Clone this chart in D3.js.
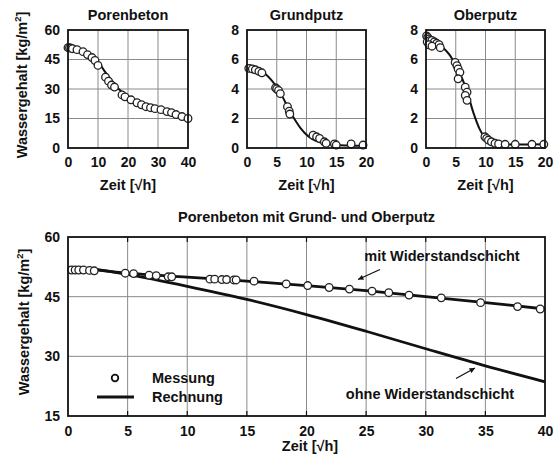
<!DOCTYPE html>
<html>
<head>
<meta charset="utf-8">
<script src="https://cdn.jsdelivr.net/npm/d3@7/dist/d3.min.js"></script>
<style>
  html, body { margin: 0; padding: 0; background: #fff; }
  svg text { font-family: "Liberation Sans", Arial, sans-serif; font-weight: bold; fill: #111; }
</style>
</head>
<body>
<svg id="chart" width="558" height="463"></svg>
<script>
// Porenbeton (aerated concrete) drying
const poroCalcX = [0, 2, 5, 8, 10, 12, 14, 16, 18, 21, 24, 27, 30, 33, 36, 40];
const poroCalcY = [51.5, 50.6, 49, 46.3, 44, 39.5, 35.5, 31.5, 28.5, 25, 22.6, 20.8, 19.5, 18.3, 17, 15.1];
const poroMeasX = [0, 0.5, 1, 1.5, 3, 5, 6.5, 8, 9, 10, 12.5, 13.5, 14.5, 15.5, 18, 19, 21, 23, 24.5, 26, 27.5, 29, 31, 33, 34.5, 36, 38, 40];
const poroMeasY = [51, 51, 50.8, 50.5, 50, 49, 47.5, 46, 44.5, 42, 36, 34, 32, 31, 27, 26, 24.5, 23, 22, 21, 20.5, 20, 19.5, 18.5, 18, 17, 16, 15];

// Grundputz (base plaster)
const grundCalcX = [0, 1, 2, 3, 4, 5, 6, 7, 8, 9, 10, 11, 12, 13, 14, 15, 17, 20];
const grundCalcY = [5.65, 5.55, 5.35, 5.05, 4.65, 4.12, 3.45, 2.65, 1.95, 1.35, 0.9, 0.6, 0.42, 0.32, 0.25, 0.2, 0.17, 0.15];
const grundMeasX = [0.3, 0.9, 1.4, 2.0, 2.5, 4.8, 5.0, 5.3, 5.6, 6.8, 7.1, 7.2, 11.1, 11.7, 12.2, 13.0, 13.3, 14.7, 15.0, 17.5, 19.5];
const grundMeasY = [5.4, 5.36, 5.3, 5.2, 5.1, 4.08, 4.0, 3.9, 3.68, 2.8, 2.5, 2.3, 0.87, 0.76, 0.65, 0.42, 0.32, 0.27, 0.2, 0.27, 0.2];

// Oberputz (top plaster)
const oberCalcX = [0, 1, 2, 3, 4, 5, 6, 7, 8, 9, 10, 11, 12, 13, 15, 20];
const oberCalcY = [7.35, 7.25, 7.05, 6.75, 6.3, 5.6, 4.79, 3.7, 2.35, 1.3, 0.65, 0.38, 0.27, 0.24, 0.23, 0.25];
const oberMeasX = [0.1, 0.3, 0.5, 0.2, 0.7, 1.0, 1.4, 1.8, 2.2, 2.4, 0.5, 1.0, 4.9, 5.2, 5.4, 5.7, 5.4, 6.6, 6.9, 6.6, 6.9, 9.9, 10.2, 10.5, 11.0, 11.6, 12.2, 13.3, 15.0, 17.8, 19.8];
const oberMeasY = [7.6, 7.5, 7.4, 7.2, 7.3, 7.3, 7.2, 7.1, 7.0, 6.8, 7.0, 6.9, 5.8, 5.58, 5.36, 5.13, 4.69, 4.12, 3.79, 3.56, 3.23, 0.76, 0.65, 0.54, 0.42, 0.32, 0.27, 0.25, 0.25, 0.25, 0.25];

// Combined wall: Porenbeton mit Grund- und Oberputz
const mitCalcX = [0, 2, 5, 10, 15, 20, 25, 30, 35, 40];
const mitCalcY = [52.2, 51.8, 50.9, 49.9, 48.9, 47.8, 46.5, 45.0, 43.5, 41.9];
const ohneCalcX = [0, 2, 5, 10, 15, 20, 25, 30, 35, 40];
const ohneCalcY = [52.3, 52.0, 50.6, 47.6, 44.3, 40.5, 36.3, 31.9, 27.6, 23.6];
const mitMeasX = [0.3, 0.6, 0.9, 1.3, 1.8, 2.2, 4.8, 5.5, 6.8, 7.4, 8.4, 8.7, 11.9, 12.3, 12.9, 13.3, 13.9, 14.1, 15.6, 18.3, 20.1, 21.9, 23.6, 25.5, 26.9, 28.6, 31.3, 34.6, 37.7, 39.6];
const mitMeasY = [51.7, 51.7, 51.7, 51.7, 51.6, 51.5, 50.9, 50.8, 50.4, 50.3, 50.0, 50.0, 49.4, 49.4, 49.3, 49.3, 49.2, 49.2, 48.9, 48.2, 47.8, 47.3, 46.9, 46.4, 46.0, 45.4, 44.7, 43.5, 42.5, 41.9];

// Axis ticks
const ticks40 = [0, 10, 20, 30, 40];
const ticks60 = [0, 15, 30, 45, 60];
const ticks20 = [0, 5, 10, 15, 20];
const ticks8 = [0, 2, 4, 6, 8];
const ticksBigX = [0, 5, 10, 15, 20, 25, 30, 35, 40];
const ticksBigY = [15, 30, 45, 60];

const xLabel = "Zeit [\u221Ah]";
const FS = 14.5;   // labels
const TS = 14;     // tick numbers
const svg = d3.select("#chart");

function zip(xs, ys) { return xs.map((x, i) => [x, ys[i]]); }

function panel(o) {
  const x = d3.scaleLinear().domain(o.xd).range([o.left, o.right]);
  const y = d3.scaleLinear().domain(o.yd).range([o.bottom, o.top]);
  const g = svg.append("g");

  // grid
  g.append("g").selectAll("line").data(o.xt.slice(1, -1)).join("line")
    .attr("x1", d => x(d)).attr("x2", d => x(d)).attr("y1", o.top).attr("y2", o.bottom)
    .attr("stroke", "#8a8a8a").attr("stroke-width", 1);
  g.append("g").selectAll("line").data(o.yt.slice(1, -1)).join("line")
    .attr("y1", d => y(d)).attr("y2", d => y(d)).attr("x1", o.left).attr("x2", o.right)
    .attr("stroke", "#8a8a8a").attr("stroke-width", 1);

  // axes
  const ax = g.append("g").attr("transform", `translate(0,${o.bottom})`)
    .call(d3.axisBottom(x).tickValues(o.xt).tickSize(0).tickPadding(o.tickPadX));
  const ay = g.append("g").attr("transform", `translate(${o.left},0)`)
    .call(d3.axisLeft(y).tickValues(o.yt).tickSize(0).tickPadding(o.tickPadY));
  [ax, ay].forEach(a => {
    a.select(".domain").remove();
    a.selectAll("text").attr("font-size", TS).style("font-family", "'Liberation Sans', Arial, sans-serif").style("font-weight", "bold").attr("fill", "#111");
  });

  // small inward tick marks on bottom and top edges
  if (o.inTicks) {
    g.append("g").selectAll("line").data(o.xt.slice(1, -1)).join("line")
      .attr("x1", d => x(d)).attr("x2", d => x(d)).attr("y1", o.bottom).attr("y2", o.bottom - 5)
      .attr("stroke", "#111").attr("stroke-width", 1.2);
    g.append("g").selectAll("line").data(o.xt.slice(1, -1)).join("line")
      .attr("x1", d => x(d)).attr("x2", d => x(d)).attr("y1", o.top).attr("y2", o.top + 5)
      .attr("stroke", "#111").attr("stroke-width", 1.2);
  }

  // calculated curves
  const line = d3.line().x(d => x(d[0])).y(d => y(d[1])).curve(d3.curveCatmullRom.alpha(0.5));
  o.calc.forEach(c => {
    g.append("path").attr("d", line(c)).attr("fill", "none")
      .attr("stroke", "#111").attr("stroke-width", o.lineW).attr("stroke-linejoin", "round");
  });

  // measurements
  g.append("g").selectAll("circle").data(o.meas).join("circle")
    .attr("cx", d => x(d[0])).attr("cy", d => y(d[1])).attr("r", o.r)
    .attr("fill", "#fff").attr("stroke", "#222").attr("stroke-width", 1.3);

  // frame
  g.append("rect").attr("x", o.left).attr("y", o.top)
    .attr("width", o.right - o.left).attr("height", o.bottom - o.top)
    .attr("fill", "none").attr("stroke", "#111").attr("stroke-width", 1.8);

  // titles
  g.append("text").attr("x", (o.left + o.right) / 2).attr("y", o.titleY)
    .attr("text-anchor", "middle").attr("font-size", FS).text(o.title);
  g.append("text").attr("x", o.xLabelX || (o.left + o.right) / 2).attr("y", o.xLabelY)
    .attr("text-anchor", "middle").attr("font-size", FS).text(xLabel);
  if (o.yLabelX) {
    const t = g.append("text")
      .attr("transform", `translate(${o.yLabelX},${o.yLabelY}) rotate(-90)`)
      .attr("text-anchor", "middle").attr("font-size", FS);
    t.append("tspan").text("Wassergehalt [kg/m");
    t.append("tspan").attr("font-size", FS * 0.65).attr("dy", -6).text("2");
    t.append("tspan").attr("dy", 6).text("]");
  }
  return { x, y, g };
}

const small = { top: 30, bottom: 148, tickPadX: 9, tickPadY: 8, titleY: 20, xLabelY: 190, lineW: 2, r: 3.8 };

panel(Object.assign({}, small, {
  left: 68, right: 188, xd: [0, 40], yd: [0, 60], xt: ticks40, yt: ticks60,
  calc: [zip(poroCalcX, poroCalcY)], meas: zip(poroMeasX, poroMeasY),
  title: "Porenbeton", yLabelX: 27, yLabelY: 85
}));
panel(Object.assign({}, small, {
  left: 247, right: 366, xd: [0, 20], yd: [0, 8], xt: ticks20, yt: ticks8,
  calc: [zip(grundCalcX, grundCalcY)], meas: zip(grundMeasX, grundMeasY),
  title: "Grundputz"
}));
panel(Object.assign({}, small, {
  left: 426, right: 545, xd: [0, 20], yd: [0, 8], xt: ticks20, yt: ticks8,
  calc: [zip(oberCalcX, oberCalcY)], meas: zip(oberMeasX, oberMeasY),
  title: "Oberputz"
}));

panel({
  left: 68, right: 545, top: 237, bottom: 416, xd: [0, 40], yd: [15, 60],
  xt: ticksBigX, yt: ticksBigY, tickPadX: 10, tickPadY: 8,
  title: "Porenbeton mit Grund- und Oberputz", titleY: 222, xLabelY: 451, xLabelX: 310,
  calc: [zip(mitCalcX, mitCalcY), zip(ohneCalcX, ohneCalcY)], meas: zip(mitMeasX, mitMeasY),
  lineW: 2.8, r: 3.8, inTicks: true, yLabelX: 29, yLabelY: 322
});

// legend
const lg = svg.append("g");
lg.append("circle").attr("cx", 115).attr("cy", 378).attr("r", 3.3)
  .attr("fill", "#fff").attr("stroke", "#111").attr("stroke-width", 1.8);
lg.append("line").attr("x1", 97).attr("x2", 134).attr("y1", 397).attr("y2", 397)
  .attr("stroke", "#111").attr("stroke-width", 2.8);
lg.append("text").attr("x", 152).attr("y", 383).attr("font-size", FS).text("Messung");
lg.append("text").attr("x", 152).attr("y", 402).attr("font-size", FS).text("Rechnung");

// annotations
const ann = svg.append("g");
ann.append("text").attr("x", 442).attr("y", 261).attr("text-anchor", "middle")
  .attr("font-size", FS).text("mit Widerstandschicht");
ann.append("text").attr("x", 430).attr("y", 399).attr("text-anchor", "middle")
  .attr("font-size", FS).text("ohne Widerstandschicht");

function arrow(x1, y1, x2, y2) {
  ann.append("line").attr("x1", x1).attr("y1", y1).attr("x2", x2).attr("y2", y2)
    .attr("stroke", "#111").attr("stroke-width", 1.3);
  const a = Math.atan2(y2 - y1, x2 - x1), L = 6, w = 0.45;
  const p = [[x2, y2],
    [x2 - L * Math.cos(a - w), y2 - L * Math.sin(a - w)],
    [x2 - L * Math.cos(a + w), y2 - L * Math.sin(a + w)]];
  ann.append("polygon").attr("points", p.map(q => q.join(",")).join(" ")).attr("fill", "#111");
}
arrow(380, 269.5, 358, 279.5);
arrow(456, 378.5, 475, 368);
</script>
</body>
</html>
